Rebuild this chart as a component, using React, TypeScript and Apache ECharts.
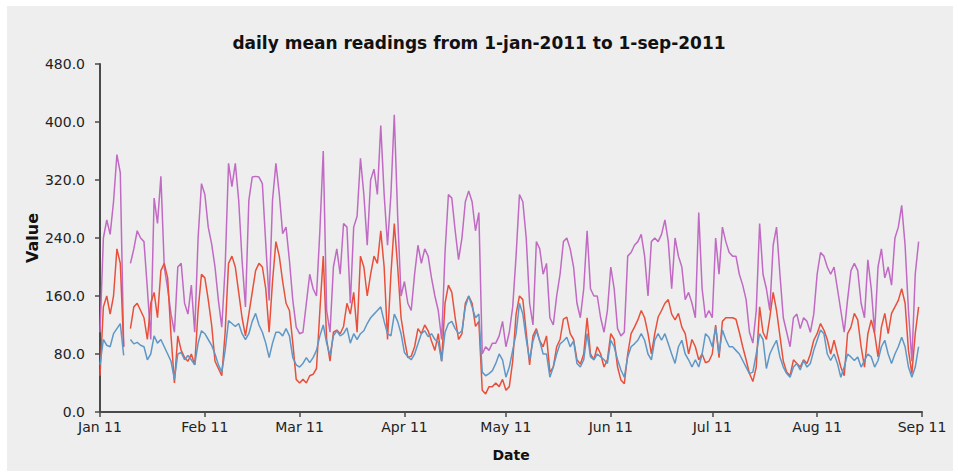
import React, { useEffect, useRef } from "react";
import * as echarts from "echarts";

const titleText = "daily mean readings from 1-jan-2011 to 1-sep-2011";
const xAxisName = "Date";
const yAxisName = "Value";
// day offsets from 1 Jan 2011 where month labels sit
const monthTickDays = [0, 31, 59, 90, 120, 151, 181, 212, 243];
const monthLabels = ["Jan 11", "Feb 11", "Mar 11", "Apr 11", "May 11", "Jun 11", "Jul 11", "Aug 11", "Sep 11"];

// daily means, index = day since 1 Jan 2011 (null = missing)
const purpleSeries = [
  110, 240, 265, 245, 290, 355, 330, 90, null, 205,
  225, 250, 240, 235, 170, 100, 295, 260, 325, 200,
  170, 135, 110, 200, 205, 150, 135, 175, 110, 240,
  315, 300, 255, 232, 200, 154, 117, 200, 343, 311,
  343, 292, 209, 145, 292, 324, 325, 324, 315, 232,
  154, 292, 343, 301, 246, 255, 209, 154, 117, 108,
  110, 150, 190, 170, 160, 250, 360, 140, 110, 200,
  225, 190, 260, 255, 150, 255, 270, 350, 300, 230,
  320, 335, 300, 395, 300, 230, 300, 410, 270, 160,
  180, 150, 140, 190, 230, 205, 225, 215, 185, 160,
  140, 100, 220, 300, 295, 250, 210, 240, 290, 305,
  290, 250, 275, 80, 90, 85, 95, 95, 105, 125,
  90, 110, 145, 215, 300, 290, 240, 150, 120, 235,
  225, 190, 205, 130, 120, 160, 190, 235, 240, 225,
  200, 150, 130, 170, 250, 170, 160, 160, 130, 110,
  140, 200, 170, 115, 105, 110, 215, 220, 230, 235,
  245, 215, 160, 235, 240, 235, 245, 265, 235, 170,
  240, 215, 200, 155, 165, 150, 130, 275, 170, 130,
  140, 130, 240, 190, 255, 235, 220, 215, 215, 190,
  175, 155, 110, 95, 140, 260, 190, 170, 140, 230,
  255, 190, 130, 110, 90, 130, 135, 115, 130, 125,
  110, 135, 190, 220, 215, 200, 190, 200, 170, 140,
  110, 155, 195, 205, 195, 150, 130, 210, 170, 110,
  200, 225, 185, 200, 175, 240, 255, 285, 230, 140,
  70, 190, 235,
];

const redSeries = [
  50, 145, 160, 135, 160, 225, 205, 90, null, 115,
  145, 150, 140, 130, 100, 150, 165, 130, 195, 205,
  185, 105, 40, 105, 85, 75, 70, 80, 65, 140,
  190, 185, 155, 120, 70, 60, 50, 110, 205, 215,
  200, 165, 130, 105, 135, 165, 195, 205, 200, 170,
  110, 180, 235, 215, 180, 150, 140, 95, 45, 40,
  45, 40, 50, 52, 60, 140, 215, 100, 70, 110,
  113, 108, 118, 150, 135, 165, 110, 215, 200, 160,
  190, 215, 205, 250, 200, 100, 190, 260, 200, 130,
  100, 75, 77, 90, 115, 108, 120, 112, 98, 85,
  108, 70, 150, 175, 165, 130, 100, 108, 150, 160,
  150, 118, 125, 30, 25, 35, 35, 40, 35, 45,
  30, 35, 70, 135, 160, 155, 110, 65, 105, 115,
  98, 90, 105, 55, 62, 90, 100, 128, 131, 108,
  100, 72, 66, 80, 130, 80, 72, 90, 80, 62,
  72, 108, 100, 62, 44, 39, 80, 108, 117, 127,
  140, 130, 108, 80, 108, 131, 140, 150, 155, 135,
  127, 136, 117, 108, 80, 100, 90, 72, 80, 68,
  70, 80, 120, 75, 125, 130, 130, 130, 128, 110,
  90, 72, 53, 42, 62, 145, 110, 100, 130, 165,
  140, 105, 70, 55, 50, 72, 67, 62, 72, 67,
  80, 99, 108, 122, 113, 100, 80, 99, 80, 62,
  50, 108, 117, 136, 127, 90, 62, 108, 127, 108,
  76, 117, 136, 108, 136, 145, 154, 170, 150, 85,
  53, 108, 145,
];

const blueSeries = [
  65, 100, 92, 90, 108, 115, 122, 78, null, 100,
  94, 96, 92, 90, 72, 80, 105, 95, 100, 90,
  80, 70, 45, 80, 82, 72, 78, 72, 65, 95,
  112, 108, 100, 92, 80, 65, 55, 85, 126, 122,
  118, 122, 108, 100, 108, 125, 136, 120, 110, 95,
  75, 95, 110, 110, 105, 115, 105, 75, 65, 62,
  67, 75, 68, 75, 85, 105, 120, 95, 78, 105,
  112, 105, 108, 116, 95, 108, 100, 108, 112, 122,
  130, 135, 140, 145, 125, 108, 105, 135, 125, 108,
  82, 76, 72, 80, 94, 108, 112, 104, 108, 100,
  96, 70, 110, 122, 125, 115, 108, 112, 145, 160,
  145, 130, 135, 55, 50, 53, 57, 67, 80, 72,
  48, 62, 85, 108, 150, 135, 100, 72, 98, 112,
  98, 80, 80, 48, 62, 80, 94, 98, 103, 90,
  98, 67, 62, 72, 108, 76, 72, 80, 76, 72,
  67, 99, 90, 72, 58, 48, 76, 90, 94, 99,
  108, 99, 80, 72, 99, 108, 99, 108, 94, 80,
  67, 90, 99, 80, 72, 62, 72, 62, 80, 108,
  103, 90, 117, 80, 113, 100, 90, 90, 85, 80,
  71, 62, 53, 55, 80, 108, 100, 60, 80, 90,
  99, 76, 62, 53, 48, 62, 67, 58, 71, 62,
  67, 85, 99, 113, 108, 80, 71, 80, 67, 48,
  62, 80, 76, 71, 76, 62, 71, 80, 76, 62,
  71, 90, 99, 80, 67, 80, 90, 103, 90, 62,
  48, 62, 90,
];

const FONT = "'DejaVu Sans', 'Liberation Sans', Arial, sans-serif";
const AXIS_COLOR = "#4a4a4a";

export default function App() {
  const ref = useRef<HTMLDivElement>(null);

  useEffect(() => {
    document.body.style.margin = "0";
    if (!ref.current) return;
    const chart = echarts.init(ref.current, null, { renderer: "svg" });
    const toPairs = (arr: (number | null)[]) => arr.map((v, i) => [i, v]);

    chart.setOption({
      animation: false,
      backgroundColor: "#ffffff",
      graphic: [
        {
          type: "rect",
          z: -10,
          silent: true,
          shape: { x: 7, y: 6, width: 946, height: 465 },
          style: { fill: "#eeeeee" },
        },
      ],
      title: {
        text: titleText,
        left: "center",
        top: 29,
        textStyle: { fontFamily: FONT, fontSize: 17, fontWeight: "bold", color: "#111" },
      },
      grid: { left: 100, top: 64, width: 822, height: 348, containLabel: false },
      xAxis: {
        type: "value",
        min: 0,
        max: 243,
        name: xAxisName,
        nameLocation: "middle",
        nameGap: 36,
        nameMoveOverlap: false,
        nameTextStyle: { fontFamily: FONT, fontSize: 14, fontWeight: "bold", color: "#111" },
        axisLine: { show: true, onZero: false, lineStyle: { color: AXIS_COLOR, width: 2 } },
        axisTick: { show: true, length: 5, customValues: monthTickDays, lineStyle: { color: AXIS_COLOR, width: 1.5 } },
        axisLabel: {
          customValues: monthTickDays,
          margin: 8,
          fontFamily: FONT,
          fontSize: 14,
          color: "#222",
          formatter: (v: number) => {
            const i = monthTickDays.indexOf(Math.round(v));
            return i >= 0 ? monthLabels[i] : "";
          },
        },
        splitLine: { show: false },
      },
      yAxis: {
        type: "value",
        min: 0,
        max: 480,
        interval: 80,
        name: yAxisName,
        nameLocation: "middle",
        nameGap: 60,
        nameMoveOverlap: false,
        nameRotate: 90,
        nameTextStyle: { fontFamily: FONT, fontSize: 16, fontWeight: "bold", color: "#111" },
        axisLine: { show: true, lineStyle: { color: AXIS_COLOR, width: 2 } },
        axisTick: { show: true, length: 5, lineStyle: { color: AXIS_COLOR, width: 1.5 } },
        axisLabel: {
          margin: 15,
          fontFamily: FONT,
          fontSize: 14,
          color: "#222",
          formatter: (v: number) => v.toFixed(1),
        },
        splitLine: { show: false },
      },
      series: [
        {
          type: "line",
          name: "purple",
          data: toPairs(purpleSeries),
          showSymbol: false,
          connectNulls: false,
          lineStyle: { color: "#c06ac4", width: 1.5 },
          itemStyle: { color: "#c06ac4" },
          z: 2,
        },
        {
          type: "line",
          name: "red",
          data: toPairs(redSeries),
          showSymbol: false,
          connectNulls: false,
          lineStyle: { color: "#e8503c", width: 1.5 },
          itemStyle: { color: "#e8503c" },
          z: 3,
        },
        {
          type: "line",
          name: "blue",
          data: toPairs(blueSeries),
          showSymbol: false,
          connectNulls: false,
          lineStyle: { color: "#5f97c6", width: 1.5 },
          itemStyle: { color: "#5f97c6" },
          z: 4,
        },
      ],
    });

    return () => chart.dispose();
  }, []);

  return <div ref={ref} style={{ width: 958, height: 473 }} />;
}
